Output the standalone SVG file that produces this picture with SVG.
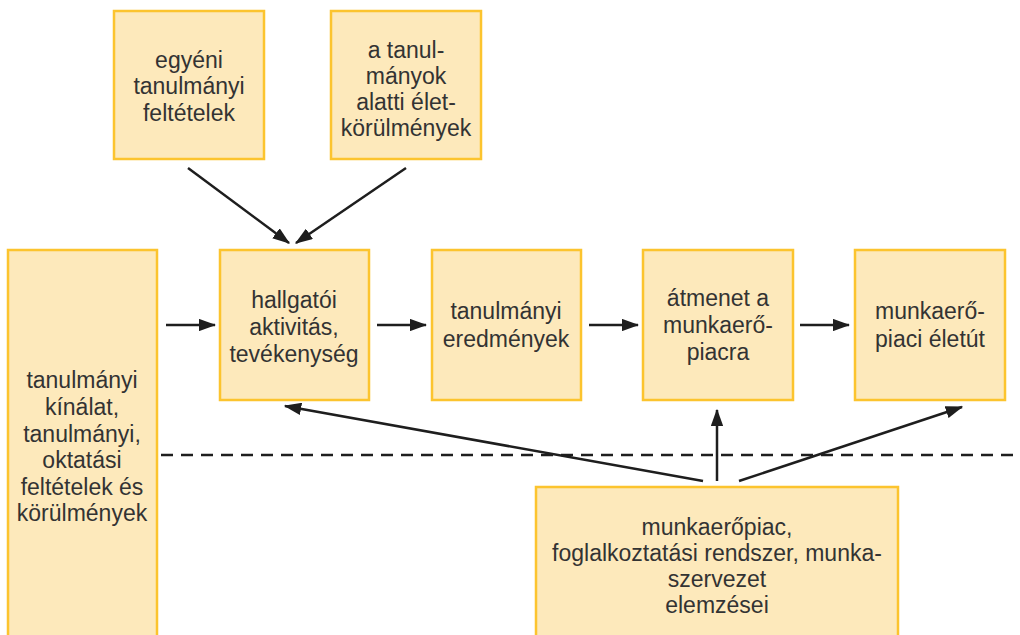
<svg xmlns="http://www.w3.org/2000/svg" width="1020" height="635" viewBox="0 0 1020 635">
<defs>
<style>
.box{fill:#fde9bb;stroke:#fcc42e;stroke-width:2.5}
.t{font-family:"Liberation Sans",Arial,sans-serif;font-size:23px;fill:#333333;text-anchor:middle}
.c{stroke:#1e1e1e;stroke-width:2.5;fill:none}
.d{stroke:#1e1e1e;stroke-width:2.5;fill:none;stroke-dasharray:12 8}
</style>
<marker id="ah" viewBox="0 0 14 10" refX="13" refY="5" markerWidth="7" markerHeight="5" orient="auto" markerUnits="strokeWidth">
<path d="M0,0 L14,5 L0,10 z" fill="#1e1e1e"/>
</marker>
</defs>
<rect width="1020" height="635" fill="#ffffff"/>
<g id="connectors">
<line class="d" x1="161" y1="455" x2="1020" y2="455"/>
<line class="c" x1="188" y1="168" x2="289" y2="243" marker-end="url(#ah)"/>
<line class="c" x1="406" y1="168" x2="296" y2="243" marker-end="url(#ah)"/>
<line class="c" x1="166" y1="325" x2="215" y2="325" marker-end="url(#ah)"/>
<line class="c" x1="377" y1="325" x2="426" y2="325" marker-end="url(#ah)"/>
<line class="c" x1="589" y1="325" x2="638" y2="325" marker-end="url(#ah)"/>
<line class="c" x1="800" y1="325" x2="849" y2="325" marker-end="url(#ah)"/>
<line class="c" x1="703" y1="481" x2="285" y2="406" marker-end="url(#ah)"/>
<line class="c" x1="717" y1="481" x2="717" y2="410" marker-end="url(#ah)"/>
<line class="c" x1="739" y1="481" x2="962" y2="407" marker-end="url(#ah)"/>
</g>
<g id="n1"><rect class="box" x="114" y="11" width="150" height="148"/>
<text class="t"><tspan x="189" y="68">egyéni</tspan><tspan x="189" y="94">tanulmányi</tspan><tspan x="189" y="121">feltételek</tspan></text></g>
<g id="n2"><rect class="box" x="331" y="11" width="150" height="148"/>
<text class="t"><tspan x="406" y="58">a tanul-</tspan><tspan x="406" y="84">mányok</tspan><tspan x="406" y="110">alatti élet-</tspan><tspan x="406" y="136">körülmények</tspan></text></g>
<g id="n3"><rect class="box" x="8" y="250" width="149" height="400"/>
<text class="t"><tspan x="82" y="388">tanulmányi</tspan><tspan x="82" y="415">kínálat,</tspan><tspan x="82" y="442">tanulmányi,</tspan><tspan x="82" y="468">oktatási</tspan><tspan x="82" y="495">feltételek és</tspan><tspan x="82" y="521">körülmények</tspan></text></g>
<g id="n4"><rect class="box" x="220" y="250" width="149" height="150"/>
<text class="t"><tspan x="294" y="308">hallgatói</tspan><tspan x="294" y="335">aktivitás,</tspan><tspan x="294" y="362">tevékenység</tspan></text></g>
<g id="n5"><rect class="box" x="432" y="250" width="149" height="150"/>
<text class="t"><tspan x="506" y="319">tanulmányi</tspan><tspan x="506" y="347">eredmények</tspan></text></g>
<g id="n6"><rect class="box" x="643" y="250" width="150" height="150"/>
<text class="t"><tspan x="718" y="306">átmenet a</tspan><tspan x="718" y="333">munkaerő-</tspan><tspan x="718" y="360">piacra</tspan></text></g>
<g id="n7"><rect class="box" x="855" y="250" width="150" height="150"/>
<text class="t"><tspan x="930" y="319">munkaerő-</tspan><tspan x="930" y="347">piaci életút</tspan></text></g>
<g id="n8"><rect class="box" x="536" y="487" width="362" height="160"/>
<text class="t"><tspan x="717" y="535">munkaerőpiac,</tspan><tspan x="717" y="561">foglalkoztatási rendszer, munka-</tspan><tspan x="717" y="587">szervezet</tspan><tspan x="717" y="613">elemzései</tspan></text></g>
</svg>
